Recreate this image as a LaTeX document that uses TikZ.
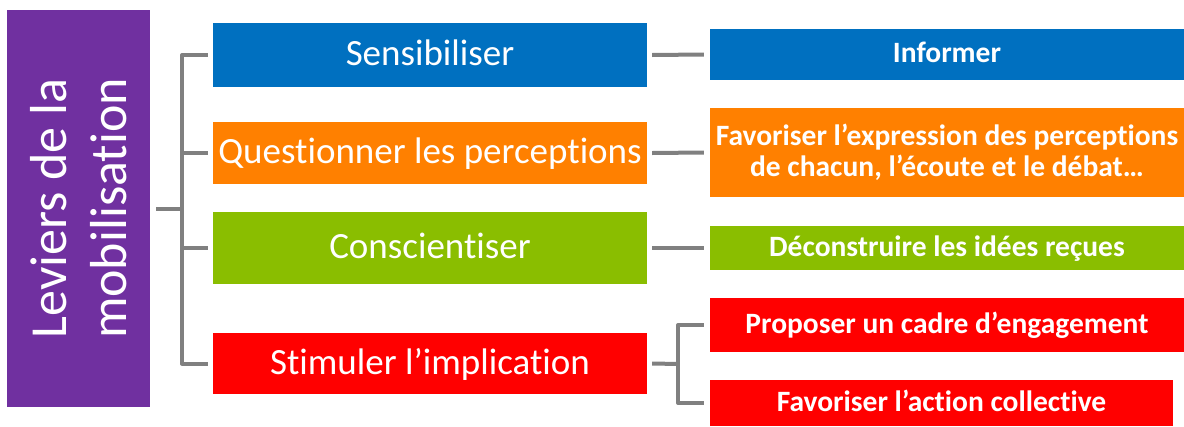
\documentclass[tikz,border=0pt]{standalone}
\usepackage{fontspec}
\setmainfont{Carlito}[Ligatures={NoCommon,NoRare,NoContextual}]
\definecolor{cpurple}{HTML}{7030A0}
\definecolor{cblue}{HTML}{0070C0}
\definecolor{corange}{HTML}{FF8000}
\definecolor{cgreen}{HTML}{8ABE00}
\definecolor{cred}{HTML}{FF0000}
\definecolor{cgray}{HTML}{808080}
\tikzset{
  levbox/.style={fill=cpurple, inner sep=0pt, text=white, rotate=90,
    minimum width=397pt, minimum height=143pt, align=center,
    font=\fontsize{52}{60}\selectfont},
  midbox/.style={inner sep=0pt, text=white, minimum width=434pt,
    font=\fontsize{37}{44}\selectfont, text height=26pt, text depth=5pt},
  rightbox/.style={inner sep=0pt, text=white, minimum width=474pt,
    font=\fontsize{29.5}{31.5}\selectfont\bfseries, text height=21pt, text depth=5pt},
  conn/.style={draw=cgray, line width=4pt, line join=round}
}
\begin{document}
\begin{tikzpicture}[x=1pt, y=-1pt]
\useasboundingbox (0,0) rectangle (1184,426);
\node[levbox] (lev) at (78.5,208.5) {Leviers de la\\mobilisation};

\node[midbox, fill=cblue, minimum height=64pt] (m1) at (430,55) {Sensibiliser};
\node[midbox, fill=corange, minimum height=62pt] (m2) at (430,153) {Questionner les perceptions};
\node[midbox, fill=cgreen, minimum height=72pt] (m3) at (430,248) {Conscientiser};
\node[midbox, fill=cred, minimum height=61pt] (m4) at (430,363.5) {Stimuler l’implication};

\node[rightbox, fill=cblue, minimum height=51pt] (r1) at (947,54.5) {Informer};
\node[inner sep=0pt, text=white, minimum width=474pt, minimum height=89pt, align=center,
  font=\fontsize{29.5}{31.5}\selectfont\bfseries, fill=corange] (r2) at (947,152.5)
  {Favoriser l’expression des perceptions\\de chacun, l’écoute et le débat…};
\node[rightbox, fill=cgreen, minimum height=44pt] (r3) at (947,248) {Déconstruire les idées reçues};
\node[rightbox, fill=cred, minimum height=54pt] (r4) at (947,325) {Proposer un cadre d’engagement};
\node[rightbox, fill=cred, minimum height=46pt, minimum width=463pt] (r5) at (941.5,403) {Favoriser l’action collective};

\coordinate (lj) at (182,209);
\coordinate (rj) at (678,364);
\draw[conn] ([xshift=6pt]lev.south |- lj) -- (lj);
\draw[conn] ([xshift=-5pt]m1.west) -| (lj) |- ([xshift=-5pt]m4.west);
\draw[conn] ([xshift=-5pt]m2.west) -- (lj |- m2.west);
\draw[conn] ([xshift=-5pt]m3.west) -- (lj |- m3.west);

\draw[conn] ([xshift=5pt]m1.east) -- ([xshift=-6pt]r1.west);
\draw[conn] ([xshift=5pt]m2.east) -- ([xshift=-6pt]r2.west);
\draw[conn] ([xshift=5pt]m3.east) -- ([xshift=-6pt]r3.west);
\draw[conn] ([xshift=5pt]m4.east) -- (rj);
\draw[conn] ([xshift=-6pt]r4.west) -| (rj) |- ([xshift=-6pt]r5.west);
\end{tikzpicture}
\end{document}
